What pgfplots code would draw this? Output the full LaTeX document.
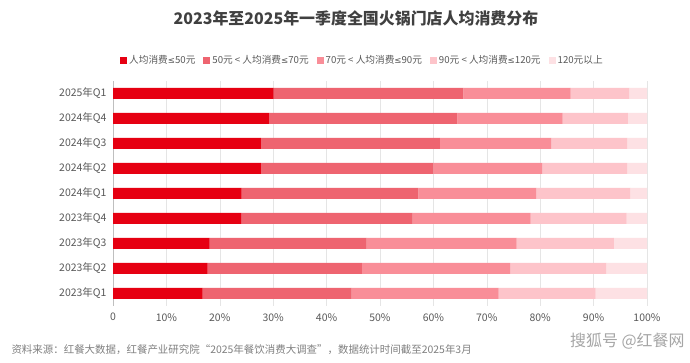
\documentclass[border=0pt]{standalone}
\usepackage{fontspec}
\setmainfont{Noto Sans CJK SC}
\newfontfamily\latinf{DejaVu Sans}
\usepackage{pgfplots}
\pgfplotsset{compat=1.18}
\definecolor{c1}{HTML}{E60012}
\definecolor{c2}{HTML}{EE6470}
\definecolor{c3}{HTML}{F98E98}
\definecolor{c4}{HTML}{FDC4CA}
\definecolor{c5}{HTML}{FDE1E4}
\definecolor{txt}{HTML}{595959}
\definecolor{ttl}{HTML}{404040}
\newcommand{\lesym}{{\latinf\fontsize{8.6}{12}\selectfont ≤}}
\pgfplotsset{sqlegend/.style={legend image code/.code={\fill[##1] (0bp,-3.5bp) rectangle (7bp,3.5bp);}}}
\begin{document}
\begin{tikzpicture}
\path[use as bounding box, fill=white] (0,0) rectangle (690bp,363bp);
\node[font=\fontsize{16}{18}\selectfont\bfseries, text=ttl] at (356bp,345bp) {2023年至2025年一季度全国火锅门店人均消费分布};
\begin{axis}[
  at={(113bp,57.2bp)}, anchor=south west,
  scale only axis, width=534bp, height=225bp,
  xbar stacked, bar width=11bp,
  xmin=0, xmax=100, ymin=-0.5, ymax=8.5,
  ytick={0,...,8},
  yticklabels={2023年Q1,2023年Q2,2023年Q3,2023年Q4,2024年Q1,2024年Q2,2024年Q3,2024年Q4,2025年Q1},
  xtick={0,10,...,100},
  xticklabels={0,10\%,20\%,30\%,40\%,50\%,60\%,70\%,80\%,90\%,100\%},
  /pgf/number format/assume math mode=true,
  xmajorgrids, grid style={draw=black!10},
  major tick length=0,
  axis lines*=left, separate axis lines,
  x axis line style={draw=none},
  y axis line style={draw=black!25},
  ticklabel style={font=\fontsize{10.5}{12}\selectfont, text=txt},
  xticklabel style={yshift=-4bp},
  yticklabel style={xshift=-3bp},
  legend columns=5,
  legend style={at={(axis description cs:0.0075,1.0924)}, anchor=west, draw=none, fill=none,
    font=\fontsize{9.7}{12}\selectfont, text=txt,
    /tikz/every even column/.append style={column sep=6bp}},
  legend cell align=left,
]
\addplot[fill=c1, draw=none, sqlegend] coordinates {(16.8,0) (17.7,1) (18.1,2) (24.0,3) (24.1,4) (27.7,5) (27.7,6) (29.3,7) (30.1,8)};
\addplot[fill=c2, draw=none, sqlegend] coordinates {(27.9,0) (28.9,1) (29.4,2) (32.1,3) (33.1,4) (32.3,5) (33.5,6) (35.2,7) (35.5,8)};
\addplot[fill=c3, draw=none, sqlegend] coordinates {(27.5,0) (27.8,1) (28.1,2) (22.1,3) (22.1,4) (20.4,5) (20.9,6) (19.7,7) (20.1,8)};
\addplot[fill=c4, draw=none, sqlegend] coordinates {(18.2,0) (18.0,1) (18.2,2) (18.0,3) (17.6,4) (15.9,5) (14.2,6) (12.2,7) (11.0,8)};
\addplot[fill=c5, draw=none, sqlegend] coordinates {(9.6,0) (7.6,1) (6.2,2) (3.8,3) (3.1,4) (3.7,5) (3.7,6) (3.6,7) (3.3,8)};
\legend{人均消费\lesym 50元, 50元 < 人均消费\lesym 70元, 70元 < 人均消费\lesym 90元, 90元 < 人均消费\lesym 120元, 120元以上}
\end{axis}
\node[anchor=west, font=\fontsize{10.5}{12}\selectfont, text=black!50] at (8bp,13bp) {资料来源：红餐大数据，红餐产业研究院“2025年餐饮消费大调查”，数据统计时间截至2025年3月};
\node[anchor=east, font=\fontsize{16}{18}\selectfont, text=black!35] at (688bp,22bp) {搜狐号 @红餐网};
\end{tikzpicture}
\end{document}
